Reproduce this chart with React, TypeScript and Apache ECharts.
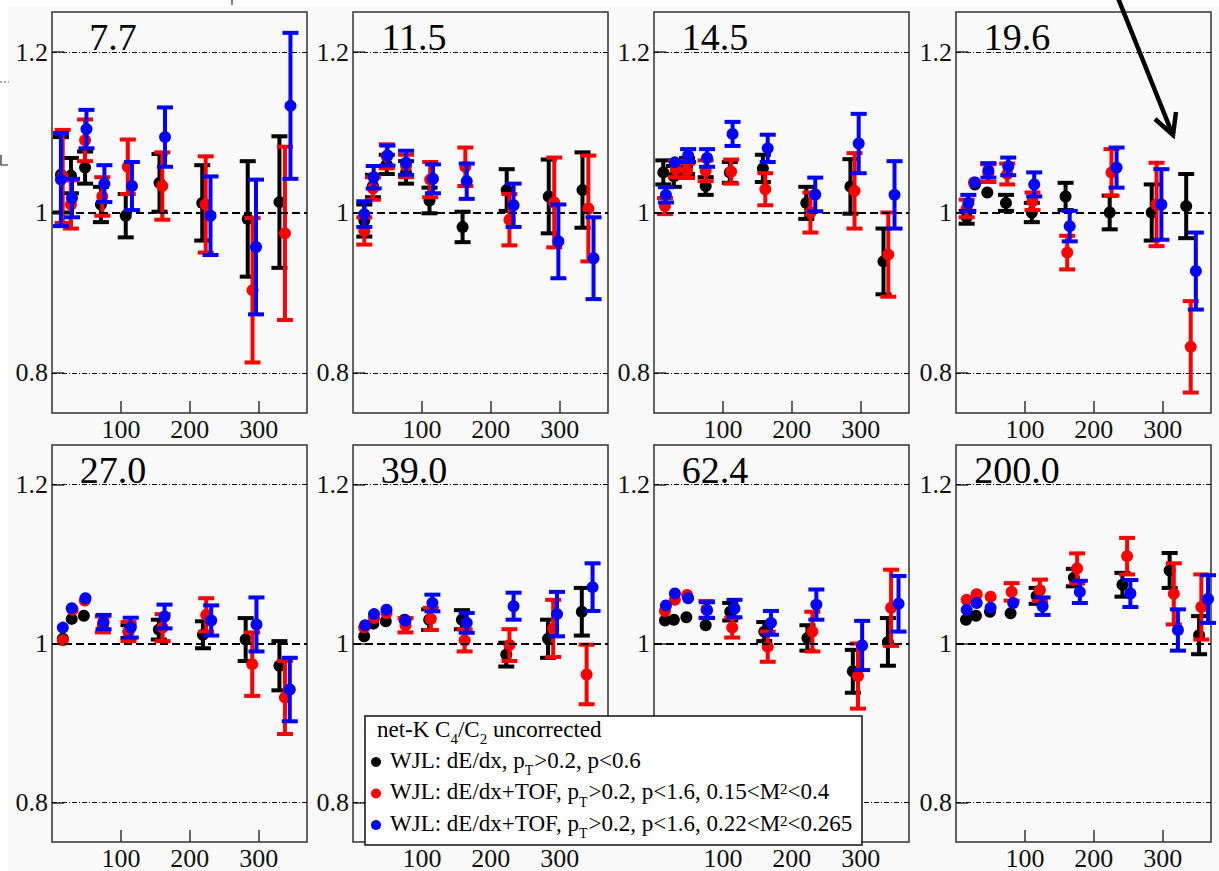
import React, { useEffect, useRef } from "react";
import * as echarts from "echarts";

type Pt = [number, number, number]; // [Npart, C4/C2, error]

const energies = ["7.7", "11.5", "14.5", "19.6", "27.0", "39.0", "62.4", "200.0"];
const xTicks = [100, 200, 300];
const yTicks = [0.8, 1, 1.2];
const yTicksUnderLegend = [1, 1.2];
const colors = ["#000000", "#ff0000", "#0000ff"];

// ---- 7.7 GeV
const k7_7: Pt[] = [[13, 1.047, 0.047], [27.5, 1.046, 0.022], [48, 1.056, 0.02], [71, 1.01, 0.022], [107, 0.996, 0.027], [156, 1.037, 0.036], [218, 1.012, 0.047], [284, 0.992, 0.072], [330, 1.013, 0.082]];
const r7_7: Pt[] = [[15.5, 1.045, 0.058], [27.5, 1.01, 0.03], [48, 1.09, 0.026], [73, 1.02, 0.024], [110, 1.057, 0.034], [160, 1.033, 0.042], [223, 1.01, 0.06], [291, 0.903, 0.09], [338, 0.974, 0.108]];
const b7_7: Pt[] = [[13, 1.041, 0.058], [29, 1.018, 0.024], [50, 1.104, 0.024], [76, 1.036, 0.023], [116, 1.033, 0.03], [164, 1.094, 0.037], [230, 0.996, 0.049], [296, 0.957, 0.084], [346, 1.133, 0.091]];
// ---- 11.5 GeV
const k11_5: Pt[] = [[16.4, 0.99, 0.02], [29, 1.033, 0.014], [49, 1.06, 0.012], [77, 1.05, 0.014], [111, 1.015, 0.016], [159, 0.982, 0.019], [223, 1.028, 0.026], [284, 1.02, 0.046], [333, 1.028, 0.047]];
const r11_5: Pt[] = [[16.4, 0.977, 0.017], [29, 1.03, 0.014], [49, 1.07, 0.015], [77, 1.058, 0.014], [112, 1.041, 0.022], [163, 1.057, 0.024], [227, 0.991, 0.032], [292, 1.0125, 0.056], [341.5, 1.005, 0.066]];
const b11_5: Pt[] = [[16.4, 0.998, 0.016], [30, 1.044, 0.014], [50, 1.071, 0.0125], [77, 1.062, 0.015], [116, 1.042, 0.018], [165, 1.039, 0.022], [233, 1.009, 0.027], [298, 0.964, 0.046], [349, 0.943, 0.051]];
// ---- 14.5 GeV
const k14_5: Pt[] = [[13.5, 1.05, 0.015], [28.8, 1.045, 0.013], [48, 1.058, 0.01], [75, 1.033, 0.011], [110, 1.05, 0.013], [158, 1.055, 0.017], [221, 1.012, 0.02], [285, 1.0325, 0.034], [333, 0.939, 0.041]];
const r14_5: Pt[] = [[15.9, 1.008, 0.01], [31.7, 1.054, 0.01], [48, 1.052, 0.009], [75, 1.052, 0.013], [112, 1.051, 0.015], [161.5, 1.029, 0.02], [227, 1.0, 0.025], [291, 1.027, 0.047], [340, 0.9475, 0.0525]];
const b14_5: Pt[] = [[17.3, 1.022, 0.0095], [30.3, 1.0625, 0.005], [49.5, 1.071, 0.008], [77, 1.068, 0.011], [114, 1.098, 0.015], [165, 1.08, 0.017], [234, 1.0225, 0.021], [297, 1.086, 0.037], [349, 1.022, 0.042]];
// ---- 19.6 GeV
const k19_6: Pt[] = [[15.5, 0.994, 0.008], [27.5, 1.035, 0.005], [45.4, 1.025, 0.005], [72.5, 1.012, 0.01], [110, 1.0, 0.012], [159, 1.02, 0.017], [223, 1.0, 0.021], [284, 1.0, 0.035], [334, 1.008, 0.04]];
const r19_6: Pt[] = [[15.5, 1.005, 0.011], [26, 1.0375, 0.005], [47, 1.049, 0.011], [74.4, 1.048, 0.013], [111, 1.014, 0.011], [161.4, 0.95, 0.021], [225.6, 1.05, 0.029], [291, 1.01, 0.052], [340.6, 0.8325, 0.057]];
const b19_6: Pt[] = [[17.9, 1.012, 0.01], [27.5, 1.0375, 0.004], [47, 1.0525, 0.009], [75.8, 1.0575, 0.011], [113.5, 1.035, 0.015], [165, 0.983, 0.019], [233, 1.056, 0.025], [298, 1.01, 0.044], [348, 0.927, 0.048]];
// ---- 27.0 GeV
const k27_0: Pt[] = [[15.7, 1.006, 0.004], [28.6, 1.031, 0.004], [46.2, 1.035, 0.004], [73.8, 1.02, 0.006], [111, 1.015, 0.008], [155, 1.0175, 0.0125], [219, 1.011, 0.017], [281, 1.005, 0.027], [330, 0.972, 0.031]];
const r27_0: Pt[] = [[15.7, 1.004, 0.004], [30, 1.0425, 0.004], [47.6, 1.054, 0.004], [73.8, 1.024, 0.01], [111, 1.015, 0.012], [160.5, 1.02, 0.017], [223.8, 1.036, 0.021], [290.5, 0.974, 0.04], [338, 0.932, 0.046]];
const b27_0: Pt[] = [[15.7, 1.02, 0.004], [28.6, 1.0445, 0.004], [48.6, 1.057, 0.004], [74.8, 1.027, 0.009], [114.3, 1.02, 0.0125], [163.3, 1.034, 0.015], [231, 1.029, 0.019], [296.7, 1.024, 0.034], [345, 0.942, 0.04]];
// ---- 39.0 GeV
const k39_0: Pt[] = [[16.2, 1.009, 0.004], [29.5, 1.025, 0.004], [47.6, 1.028, 0.004], [74.8, 1.03, 0.005], [110.5, 1.03, 0.013], [158, 1.03, 0.012], [222.4, 0.986, 0.015], [283, 1.006, 0.024], [332, 1.04, 0.03]];
const r39_0: Pt[] = [[16.2, 1.02, 0.004], [30.5, 1.032, 0.004], [48.6, 1.038, 0.004], [76.2, 1.023, 0.009], [113, 1.031, 0.014], [162, 1.004, 0.014], [227, 0.998, 0.02], [290.5, 1.019, 0.036], [339, 0.961, 0.0375]];
const b39_0: Pt[] = [[17.6, 1.023, 0.004], [30.5, 1.037, 0.004], [48.6, 1.0425, 0.004], [76.2, 1.029, 0.005], [115.2, 1.051, 0.0105], [165, 1.026, 0.0125], [233, 1.047, 0.017], [296, 1.037, 0.028], [347.6, 1.071, 0.03]];
// ---- 62.4 GeV
const k62_4: Pt[] = [[15.9, 1.029, 0.004], [28.8, 1.03, 0.004], [47, 1.033, 0.004], [75, 1.023, 0.004], [110.6, 1.04, 0.011], [160, 1.015, 0.012], [222.6, 1.007, 0.016], [288.5, 0.965, 0.027], [339.4, 1.002, 0.03]];
const r62_4: Pt[] = [[15.9, 1.041, 0.004], [30.3, 1.055, 0.004], [48, 1.061, 0.004], [76, 1.043, 0.0105], [113.5, 1.02, 0.0125], [165, 0.996, 0.019], [229.8, 1.015, 0.025], [296, 0.959, 0.041], [344, 1.045, 0.048]];
const b62_4: Pt[] = [[17.3, 1.048, 0.004], [30.3, 1.063, 0.004], [49.5, 1.057, 0.004], [77, 1.042, 0.01], [116.8, 1.044, 0.011], [169.7, 1.026, 0.015], [235.6, 1.049, 0.019], [302, 0.9975, 0.031], [354.8, 1.05, 0.035]];
// ---- 200.0 GeV
const k200_0: Pt[] = [[14.5, 1.03, 0.004], [29, 1.035, 0.004], [49.3, 1.04, 0.004], [79.2, 1.038, 0.004], [117, 1.06, 0.01], [171, 1.083, 0.011], [241.5, 1.074, 0.015], [310, 1.092, 0.022], [352.7, 1.0105, 0.024]];
const r200_0: Pt[] = [[15.5, 1.055, 0.004], [30, 1.062, 0.004], [50.2, 1.059, 0.004], [80.7, 1.065, 0.011], [121.7, 1.067, 0.0135], [175.8, 1.0945, 0.019], [248.3, 1.11, 0.023], [316, 1.0625, 0.0385], [356, 1.046, 0.041]];
const b200_0: Pt[] = [[15.5, 1.0425, 0.004], [30, 1.051, 0.004], [50.2, 1.045, 0.004], [83, 1.051, 0.005], [125.6, 1.047, 0.011], [179.7, 1.065, 0.014], [253, 1.063, 0.017], [322, 1.017, 0.026], [365.7, 1.056, 0.03]];

const panelData: Pt[][][] = [
  [k7_7, r7_7, b7_7],
  [k11_5, r11_5, b11_5],
  [k14_5, r14_5, b14_5],
  [k19_6, r19_6, b19_6],
  [k27_0, r27_0, b27_0],
  [k39_0, r39_0, b39_0],
  [k62_4, r62_4, b62_4],
  [k200_0, r200_0, b200_0],
];

const legendTitle: [string, string][] = [["net-K C", "n"], ["4", "sub"], ["/C", "n"], ["2", "sub"], [" uncorrected", "n"]];
const legendEntries: [string, string][][] = [
  [["WJL: dE/dx, p", "n"], ["T", "subT"], [">0.2, p<0.6", "n"]],
  [["WJL: dE/dx+TOF, p", "n"], ["T", "subT"], [">0.2, p<1.6, 0.15<M", "n"], ["2", "sup"], ["<0.4", "n"]],
  [["WJL: dE/dx+TOF, p", "n"], ["T", "subT"], [">0.2, p<1.6, 0.22<M", "n"], ["2", "sup"], ["<0.265", "n"]],
];

const FF = '"Liberation Serif", "Times New Roman", serif';
const colLeft = [52, 353, 654, 956];
const rowTop = [12, 445];
const PW = 255;
const PH = 401;

function makeRender(color: string) {
  return (params: any, api: any) => {
    const x = api.value(0);
    const y = api.value(1);
    const e = api.value(2);
    const c = api.coord([x, y]);
    const hi = api.coord([x, y + e]);
    const lo = api.coord([x, y - e]);
    const r = 6;
    const hw = 8;
    const children: any[] = [];
    if (c[1] - hi[1] > 5) {
      children.push({ type: "line", shape: { x1: c[0], y1: hi[1], x2: c[0], y2: lo[1] }, style: { stroke: color, lineWidth: 4 } });
      children.push({ type: "line", shape: { x1: c[0] - hw, y1: hi[1], x2: c[0] + hw, y2: hi[1] }, style: { stroke: color, lineWidth: 4 } });
      children.push({ type: "line", shape: { x1: c[0] - hw, y1: lo[1], x2: c[0] + hw, y2: lo[1] }, style: { stroke: color, lineWidth: 4 } });
    }
    children.push({ type: "circle", shape: { cx: c[0], cy: c[1], r }, style: { fill: color } });
    return { type: "group", children };
  };
}

let measureCtx: CanvasRenderingContext2D | null = null;
function textWidth(t: string, fs: number): number {
  if (!measureCtx) measureCtx = document.createElement("canvas").getContext("2d");
  if (!measureCtx) return t.length * fs * 0.5;
  measureCtx.font = `${fs}px ${FF}`;
  return measureCtx.measureText(t).width;
}

function textEl(text: string, x: number, yCenter: number, fs: number, align = "left", z = 100) {
  return {
    type: "text",
    z,
    x,
    y: yCenter,
    silent: true,
    style: {
      text,
      fontSize: fs,
      fontFamily: FF,
      lineHeight: Math.round(fs * 0.9),
      fill: "#000",
      align,
      textAlign: align,
      verticalAlign: "middle",
      textVerticalAlign: "middle",
    },
  };
}

function runsToEls(runs: [string, string][], x0: number, base: number) {
  const els: any[] = [];
  let x = x0;
  const main = 23;
  for (const [t, k] of runs) {
    let fs = main;
    let dy = 0;
    let gap = 0;
    if (k === "sub") { fs = 15; dy = 7; }
    else if (k === "subT") { fs = 14; dy = 7.5; gap = 1; }
    else if (k === "sup") { fs = 15; dy = -5; }
    const yb = base + dy;
    els.push(textEl(t, x, yb - 0.3375 * fs, fs));
    x += textWidth(t, fs) + gap;
  }
  return els;
}

function buildOption() {
  const grid: any[] = [];
  const xAxis: any[] = [];
  const yAxis: any[] = [];
  const series: any[] = [];
  const graphic: any[] = [];

  panelData.forEach((sets, i) => {
    const col = i % 4;
    const row = Math.floor(i / 4);
    const left = colLeft[col];
    const top = rowTop[row];
    // the 0.8 label of the 62.4 panel is hidden behind the legend box in the reference
    const yLabelValues = i === 6 ? yTicksUnderLegend : yTicks;
    grid.push({ left, top, width: PW, height: PH, show: true, borderColor: "#333", borderWidth: 1.5, backgroundColor: "transparent", containLabel: false });
    xAxis.push({
      type: "value", gridIndex: i, min: 0, max: 370,
      axisLine: { show: false, onZero: false },
      splitLine: { show: false },
      axisTick: { show: true, inside: true, length: 12, customValues: xTicks, lineStyle: { color: "#333", width: 1.5 } },
      axisLabel: { show: true, customValues: xTicks, margin: 3, fontFamily: FF, fontSize: 26, color: "#111" },
    });
    yAxis.push({
      type: "value", gridIndex: i, min: 0.75, max: 1.25,
      axisLine: { show: false, onZero: false },
      splitLine: { show: false },
      axisTick: { show: true, inside: true, length: 12, customValues: yTicks, lineStyle: { color: "#333", width: 1.5 } },
      axisLabel: { show: true, customValues: yLabelValues, margin: 4, fontFamily: FF, fontSize: 26, color: "#111", formatter: (v: number) => String(v) },
    });
    series.push({
      type: "line", xAxisIndex: i, yAxisIndex: i, data: [], silent: true, z: 1,
      markLine: {
        silent: true, symbol: ["none", "none"], label: { show: false }, animation: false,
        data: [
          { yAxis: 1.2, lineStyle: { type: [5, 2, 1, 2], width: 1.2, color: "#000" } },
          { yAxis: 0.8, lineStyle: { type: [5, 2, 1, 2], width: 1.2, color: "#000" } },
          { yAxis: 1, lineStyle: { type: [8, 4], width: 2, color: "#000" } },
        ],
      },
    });
    sets.forEach((d, j) => {
      series.push({
        type: "custom", xAxisIndex: i, yAxisIndex: i, data: d, encode: { x: 0, y: 1 },
        renderItem: makeRender(colors[j]), clip: false, z: 3 + j, silent: true,
      });
    });
    graphic.push(textEl(energies[i], left + 61, top + 25.3, 38, "center", 50));
  });

  // legend box
  const LX = 365, LY = 716, LW = 497, LH = 129;
  graphic.push({ type: "rect", z: 99, silent: true, shape: { x: LX, y: LY, width: LW, height: LH }, style: { fill: "#ffffff", stroke: "#111", lineWidth: 1.5 } });
  graphic.push(...runsToEls(legendTitle, 377, 737));
  const bases = [768, 799.5, 831];
  const dotsY = [762, 793.5, 825];
  legendEntries.forEach((runs, j) => {
    graphic.push({ type: "circle", z: 100, silent: true, shape: { cx: 376, cy: dotsY[j], r: 5 }, style: { fill: colors[j] } });
    graphic.push(...runsToEls(runs, 390, bases[j]));
  });

  // annotation arrow
  graphic.push({ type: "line", z: 100, silent: true, shape: { x1: 1118, y1: -2, x2: 1172, y2: 133 }, style: { stroke: "#000", lineWidth: 4.5 } });
  graphic.push({ type: "polyline", z: 100, silent: true, shape: { points: [[1155, 119], [1173, 135], [1176, 112]] }, style: { stroke: "#000", lineWidth: 4.5, fill: "none", lineJoin: "miter" } });

  // page edges
  graphic.push({ type: "rect", z: 0, silent: true, shape: { x: 0, y: 0, width: 1219, height: 7 }, style: { fill: "#ffffff" } });
  graphic.push({ type: "rect", z: 0, silent: true, shape: { x: 0, y: 0, width: 8, height: 871 }, style: { fill: "#fdfdfd" } });
  graphic.push({ type: "line", z: 1, silent: true, shape: { x1: 0, y1: 82, x2: 9, y2: 82 }, style: { stroke: "#555", lineWidth: 1, lineDash: [2, 2] } });
  graphic.push({ type: "polyline", z: 1, silent: true, shape: { points: [[1, 155], [1, 165], [8, 165]] }, style: { stroke: "#222", lineWidth: 1.2, fill: "none" } });
  graphic.push({ type: "line", z: 1, silent: true, shape: { x1: 232, y1: 0, x2: 232, y2: 5 }, style: { stroke: "#333", lineWidth: 1.2 } });

  return {
    animation: false,
    backgroundColor: "#f9f9f9",
    grid,
    xAxis,
    yAxis,
    series,
    graphic: { elements: graphic },
  };
}

export default function App() {
  const ref = useRef<HTMLDivElement>(null);
  useEffect(() => {
    if (!ref.current) return;
    const chart = echarts.init(ref.current, null, { renderer: "svg" });
    chart.setOption(buildOption() as any);
    return () => chart.dispose();
  }, []);
  return <div ref={ref} style={{ position: "fixed", left: 0, top: 0, width: 1219, height: 871 }} />;
}
